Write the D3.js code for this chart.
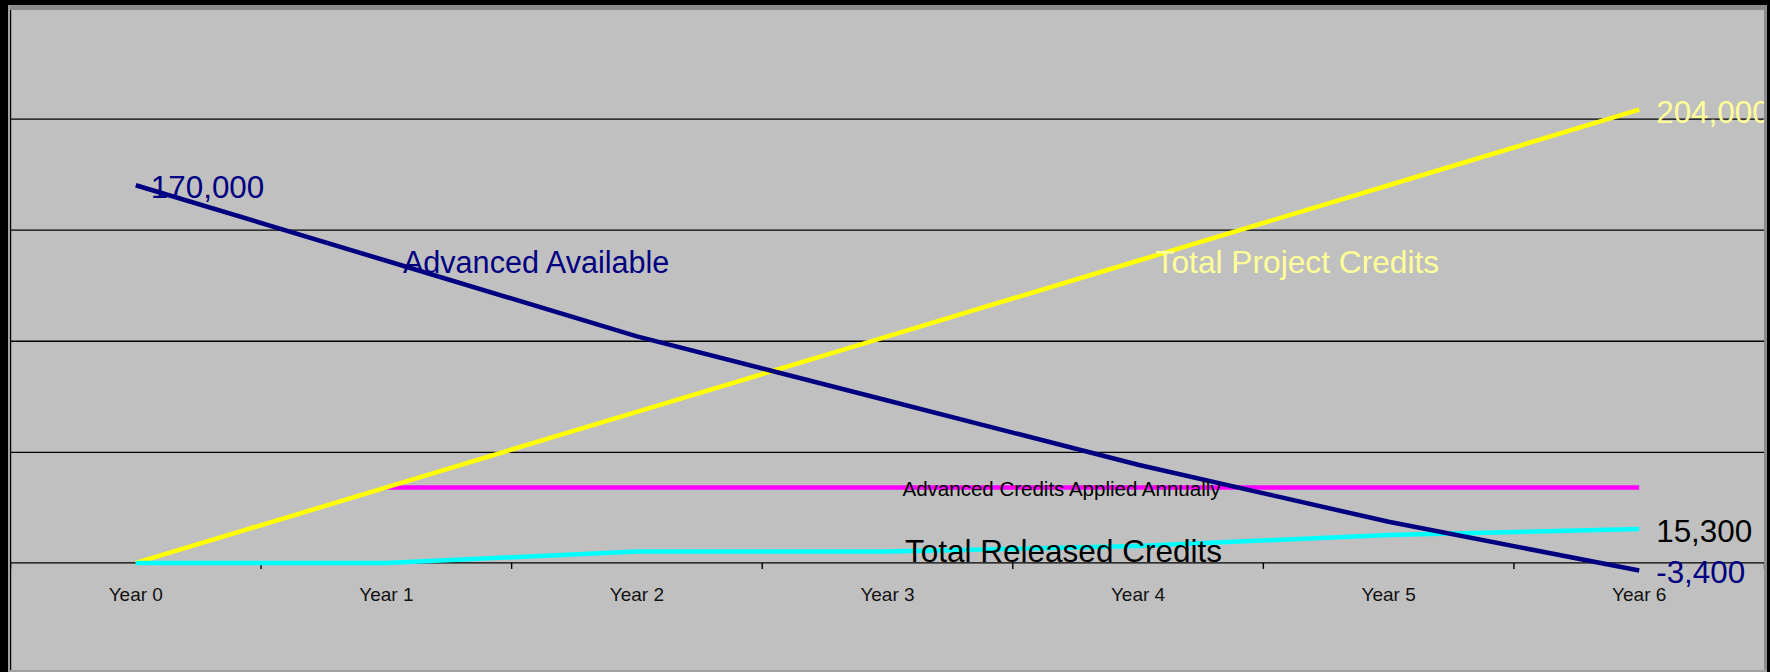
<!DOCTYPE html>
<html>
<head>
<meta charset="utf-8">
<script src="https://cdn.jsdelivr.net/npm/d3@7"></script>
<style>
  html, body { margin: 0; padding: 0; background: #000; }
  svg { display: block; font-family: Arial, "Liberation Sans", sans-serif; }
</style>
</head>
<body>
<svg id="chart" width="1770" height="672"></svg>
<script>
/* Advanced vs released credits over six years - four lines on an Excel-style grey plot. */

const YEARS = ["Year 0", "Year 1", "Year 2", "Year 3", "Year 4", "Year 5", "Year 6"];

// series, one value per year (null = no point)
const TOTAL_PROJECT      = [0, 34000, 68000, 102000, 136000, 170000, 204000];
const ADVANCED_AVAILABLE = [170000, 136000, 102000, 73100, 44200, 18500, -3400];
const APPLIED_ANNUALLY   = [null, 34000, 34000, 34000, 34000, 34000, 34000];
const RELEASED           = [0, 0, 5100, 5100, 7650, 12600, 15300];

const GRID_VALUES = [50000, 100000, 150000, 200000];
const Y_DOMAIN = [-50000, 250000];

const W = 1770, H = 672;
const PLOT = { left: 10.5, right: 1764.5, top: 7.5, bottom: 674 };

const svg = d3.select("#chart");
svg.append("rect").attr("width", W).attr("height", H).attr("fill", "#000");
svg.append("rect").attr("x", 8).attr("y", 5).attr("width", 1759).attr("height", 667).attr("fill", "#c0c0c0");

// categories sit in the middle of equal bands, ticks on the band edges
const x = d3.scaleBand().domain(YEARS).range([PLOT.left, PLOT.right]);
const cx = i => x(YEARS[0]) + x.bandwidth() * (i + 0.5);   // i may be fractional
const y = d3.scaleLinear().domain(Y_DOMAIN).range([PLOT.bottom, PLOT.top]);
const y0 = y(0);

// excel style numbers: thousands comma, plain hyphen for negatives
const fmt = v => d3.format(",")(v).replace("\u2212", "-");

// horizontal gridlines
svg.append("g")
    .attr("transform", `translate(${PLOT.left},0)`)
    .call(d3.axisLeft(y).tickValues(GRID_VALUES).tickSize(-(PLOT.right - PLOT.left)).tickFormat(""))
    .call(g => g.select(".domain").remove())
    .call(g => g.selectAll("line").attr("stroke", "#000").attr("stroke-width", 1.4));

// value axis line
svg.append("line").attr("x1", PLOT.left).attr("x2", PLOT.left)
    .attr("y1", PLOT.top).attr("y2", H).attr("stroke", "#000").attr("stroke-width", 1.4);

// category axis: line, boundary ticks, labels
svg.append("line").attr("x1", PLOT.left).attr("x2", PLOT.right)
    .attr("y1", y0).attr("y2", y0).attr("stroke", "#000").attr("stroke-width", 1.4);
svg.append("g").selectAll("line").data(d3.range(YEARS.length + 1)).join("line")
    .attr("x1", i => PLOT.left + i * x.bandwidth()).attr("x2", i => PLOT.left + i * x.bandwidth())
    .attr("y1", y0).attr("y2", y0 + 6).attr("stroke", "#000").attr("stroke-width", 1.4);
svg.append("g").selectAll("text").data(YEARS).join("text")
    .attr("x", d => x(d) + x.bandwidth() / 2).attr("y", y0 + 38.5)
    .attr("text-anchor", "middle").attr("font-size", 19).attr("fill", "#111")
    .text(d => d);

// the four series, drawn bottom to top
const line = d3.line().defined(d => d != null).x((d, i) => cx(i)).y(d => y(d));
const SERIES = [
  { values: APPLIED_ANNUALLY,   color: "#ff00ff" },
  { values: TOTAL_PROJECT,      color: "#ffff00" },
  { values: RELEASED,           color: "#00ffff" },
  { values: ADVANCED_AVAILABLE, color: "#000080" }
];
svg.append("g").selectAll("path").data(SERIES).join("path")
    .attr("d", d => line(d.values))
    .attr("fill", "none").attr("stroke", d => d.color).attr("stroke-width", 4.5);

// data labels next to the first / last points
const last = YEARS.length - 1;
const VALUE_LABELS = [
  { i: 0,    v: ADVANCED_AVAILABLE[0],    color: "#000080", dx: 15 },
  { i: last, v: TOTAL_PROJECT[last],      color: "#ffff99", dx: 17 },
  { i: last, v: RELEASED[last],           color: "#000",    dx: 17 },
  { i: last, v: ADVANCED_AVAILABLE[last], color: "#000080", dx: 17 }
];
svg.append("g").selectAll("text").data(VALUE_LABELS).join("text")
    .attr("x", d => cx(d.i) + d.dx).attr("y", d => y(d.v) + 13)
    .attr("font-size", 31.4).attr("fill", d => d.color)
    .text(d => fmt(d.v));

// series names, placed on the chart
const NAME_LABELS = [
  { text: "Advanced Available",                i: 1.066, v: 130500, size: 30.6, color: "#000080" },
  { text: "Total Project Credits",             i: 4.07,  v: 130500, size: 31.7, color: "#ffff99" },
  { text: "Advanced Credits Applied Annually", i: 3.06,  v: 30200,  size: 20.5, color: "#000" },
  { text: "Total Released Credits",            i: 3.07,  v: 600,    size: 31.5, color: "#000" }
];
svg.append("g").selectAll("text").data(NAME_LABELS).join("text")
    .attr("x", d => cx(d.i)).attr("y", d => y(d.v))
    .attr("font-size", d => d.size).attr("fill", d => d.color)
    .text(d => d.text);

// window frame on top (clips the 204,000 label like the original)
const frame = svg.append("g");
frame.append("rect").attr("x", 8).attr("y", 5).attr("width", 1759).attr("height", 5).attr("fill", "#8c8c8c");
frame.append("rect").attr("x", 8).attr("y", 5).attr("width", 2).attr("height", 667).attr("fill", "#a0a0a0");
frame.append("rect").attr("x", 1764).attr("y", 5).attr("width", 3).attr("height", 667).attr("fill", "#8c8c8c");
frame.append("rect").attr("x", 8).attr("y", 670).attr("width", 1759).attr("height", 2).attr("fill", "#a0a0a0");
frame.append("rect").attr("x", 1767).attr("y", 0).attr("width", 3).attr("height", H).attr("fill", "#000");
frame.append("rect").attr("x", 0).attr("y", 0).attr("width", 8).attr("height", H).attr("fill", "#000");
frame.append("rect").attr("x", 0).attr("y", 0).attr("width", W).attr("height", 5).attr("fill", "#000");
</script>
</body>
</html>
